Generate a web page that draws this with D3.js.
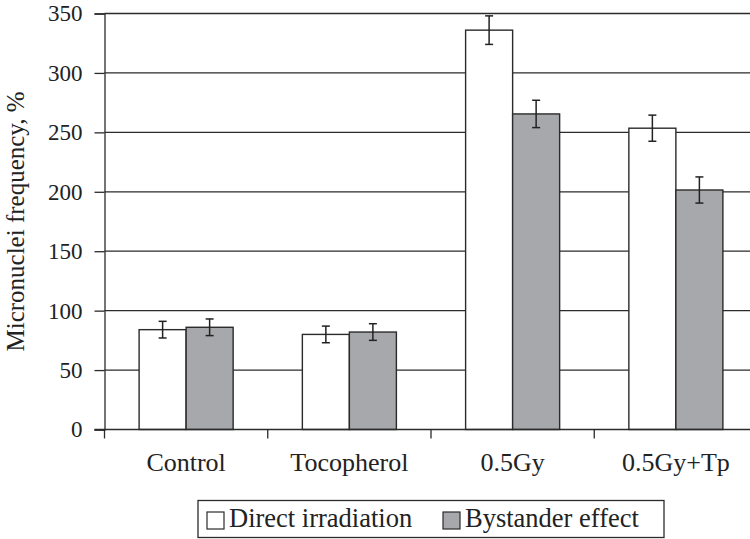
<!DOCTYPE html>
<html>
<head>
<meta charset="utf-8">
<script src="https://cdn.jsdelivr.net/npm/d3@7"></script>
<style>
  body { margin: 0; background: #fff; }
  svg { display: block; font-family: "Liberation Serif", "Times New Roman", serif; }
</style>
</head>
<body>
<script>
const categories = ['Control', 'Tocopherol', '0.5Gy', '0.5Gy+Tp'];
const seriesNames = ['Direct irradiation', 'Bystander effect'];
const directValues = [84, 80, 336, 253.5];
const directErrors = [7, 7, 12, 11];
const bystanderValues = [86, 82, 265.5, 201.5];
const bystanderErrors = [7, 7, 11.5, 11];
const yTicks = [0, 50, 100, 150, 200, 250, 300, 350];

const fills = ['#ffffff', '#a7a8ab'];
const ink = '#2b2b2b';

const width = 750;
const height = 539;
const margin = { left: 104.5, right: -7.5, top: 13.5, bottom: 109.5 };

const rows = categories.map((c, i) => ({
  category: c,
  bars: [
    { series: seriesNames[0], value: directValues[i], err: directErrors[i] },
    { series: seriesNames[1], value: bystanderValues[i], err: bystanderErrors[i] },
  ],
}));

const svg = d3.select('body')
  .append('svg')
  .attr('width', width)
  .attr('height', height);

const x0 = d3.scaleBand()
  .domain(categories)
  .range([margin.left, width - margin.right]);

const groupShare = 0.576;
const x1 = d3.scaleBand()
  .domain(seriesNames)
  .range([x0.bandwidth() * (1 - groupShare) / 2, x0.bandwidth() * (1 + groupShare) / 2]);

const y = d3.scaleLinear()
  .domain([0, 350])
  .range([height - margin.bottom, margin.top]);

// gridlines behind the bars
svg.append('g')
  .selectAll('line')
  .data(yTicks.filter(d => d > 0))
  .join('line')
    .attr('x1', margin.left)
    .attr('x2', width - margin.right)
    .attr('y1', d => y(d))
    .attr('y2', d => y(d))
    .attr('stroke', ink)
    .attr('stroke-width', 1.3);

const groups = svg.append('g')
  .selectAll('g')
  .data(rows)
  .join('g')
    .attr('transform', d => `translate(${x0(d.category)},0)`);

groups.selectAll('rect')
  .data(d => d.bars)
  .join('rect')
    .attr('x', d => x1(d.series))
    .attr('y', d => y(d.value))
    .attr('width', x1.bandwidth())
    .attr('height', d => y(0) - y(d.value))
    .attr('fill', (d, i) => fills[i])
    .attr('stroke', ink)
    .attr('stroke-width', 1.4);

// error bars
const capHalf = 4;
const errs = groups.selectAll('g.err')
  .data(d => d.bars)
  .join('g')
    .attr('class', 'err')
    .attr('stroke', '#222')
    .attr('stroke-width', 1.5);

errs.append('line')
  .attr('x1', d => x1(d.series) + x1.bandwidth() / 2)
  .attr('x2', d => x1(d.series) + x1.bandwidth() / 2)
  .attr('y1', d => y(d.value + d.err))
  .attr('y2', d => y(d.value - d.err));

[1, -1].forEach(sign => {
  errs.append('line')
    .attr('x1', d => x1(d.series) + x1.bandwidth() / 2 - capHalf)
    .attr('x2', d => x1(d.series) + x1.bandwidth() / 2 + capHalf)
    .attr('y1', d => y(d.value + sign * d.err))
    .attr('y2', d => y(d.value + sign * d.err));
});

// y axis
const yAxis = svg.append('g')
  .attr('transform', `translate(${margin.left},0)`)
  .call(d3.axisLeft(y).tickValues(yTicks).tickSize(10).tickPadding(12).tickFormat(d3.format('d')));

yAxis.select('.domain').attr('stroke', ink).attr('stroke-width', 1.3);
yAxis.selectAll('.tick line').attr('stroke', ink).attr('stroke-width', 1.3);
yAxis.selectAll('.tick text')
  .attr('fill', '#222')
  .style('font-size', '23px')
  .style('font-family', '"Liberation Serif", serif');

// x axis: baseline plus ticks at band edges
svg.append('line')
  .attr('x1', margin.left - 10)
  .attr('x2', width - margin.right)
  .attr('y1', y(0))
  .attr('y2', y(0))
  .attr('stroke', ink)
  .attr('stroke-width', 1.3);

const edges = categories.map(c => x0(c)).concat([x0.range()[1]]);
svg.append('g')
  .selectAll('line')
  .data(edges)
  .join('line')
    .attr('x1', d => d)
    .attr('x2', d => d)
    .attr('y1', y(0))
    .attr('y2', y(0) + 9)
    .attr('stroke', ink)
    .attr('stroke-width', 1.3);

svg.append('g')
  .selectAll('text')
  .data(categories)
  .join('text')
    .attr('x', d => x0(d) + x0.bandwidth() / 2)
    .attr('y', 471)
    .attr('text-anchor', 'middle')
    .attr('fill', '#222')
    .style('font-size', '26px')
    .text(d => d);

// y axis title
svg.append('text')
  .attr('transform', `translate(24,${(y(0) + y(350)) / 2}) rotate(-90)`)
  .attr('text-anchor', 'middle')
  .attr('fill', '#222')
  .style('font-size', '25px')
  .text('Micronuclei frequency, %');

// legend
const legend = svg.append('g');
legend.append('rect')
  .attr('x', 198)
  .attr('y', 500.5)
  .attr('width', 466)
  .attr('height', 37)
  .attr('fill', '#fff')
  .attr('stroke', ink)
  .attr('stroke-width', 1.3);

const legendX = [207, 443];
const items = legend.selectAll('g')
  .data(seriesNames)
  .join('g')
    .attr('transform', (d, i) => `translate(${legendX[i]},0)`);

items.append('rect')
  .attr('x', 0)
  .attr('y', 512)
  .attr('width', 17)
  .attr('height', 17)
  .attr('fill', (d, i) => fills[i])
  .attr('stroke', ink)
  .attr('stroke-width', 1.2);

items.append('text')
  .attr('x', 22)
  .attr('y', 527)
  .attr('fill', '#222')
  .style('font-size', '26.5px')
  .text(d => d);
</script>
</body>
</html>
